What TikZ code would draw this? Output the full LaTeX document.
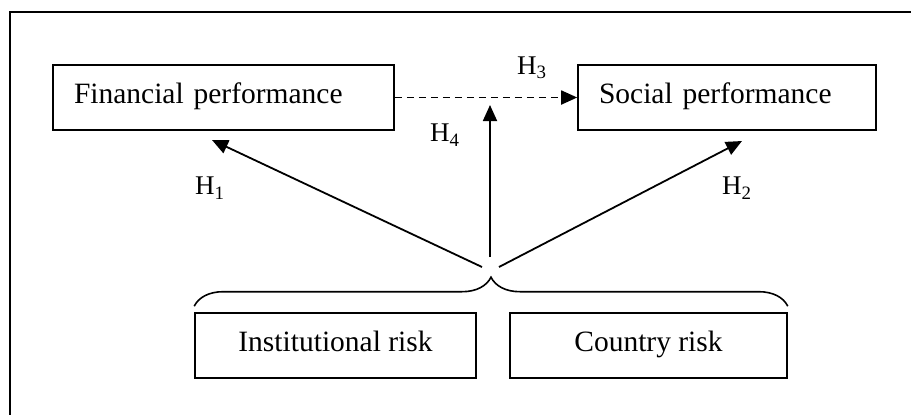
\documentclass[tikz,border=0pt]{standalone}
\usepackage{fontspec}
\setmainfont{Liberation Serif}
\usetikzlibrary{arrows.meta,decorations.pathreplacing}

\begin{document}
\begin{tikzpicture}[x=0.5pt,y=-0.5pt]
	\tikzstyle{construct}=[draw=black,line width=0.8pt,minimum height=32.5pt,inner ysep=0pt,text height=1.6ex,text depth=.4ex,font=\fontsize{14.75}{17}\selectfont]
	\tikzstyle{edge}=[draw=black,line width=0.9pt,-{Triangle[length=8pt,width=7pt]}]
	\tikzstyle{hyp}=[font=\fontsize{13.5}{16}\selectfont]
	\tikzstyle{bracket}=[draw=black,line width=0.8pt,decorate,decoration={brace,amplitude=14.5pt}]

	\useasboundingbox (0,0) rectangle (911,414);
	\draw [line width=1.2pt] (10,440) -- (10,12) -- (940,12);

	% upper row
	\node [construct,inner xsep=10.5pt,text width=149.5pt,align=left] (fin) at (223.5,97.5) {Financial performance};
	\node [construct,inner xsep=10.5pt,text width=128pt,align=left] (soc) at (727,97.5) {Social performance};

	% lower row
	\node [construct,minimum width=140.5pt] (inst) at (335.5,345.5) {Institutional risk};
	\node [construct,minimum width=138.5pt] (ctry) at (648.5,345.5) {Country risk};

	\draw [bracket] ([yshift=3pt]inst.north west) -- ([yshift=3pt]ctry.north east);

	\coordinate (hubL) at (482,267);
	\coordinate (hubC) at (490,257);
	\coordinate (hubR) at (499,267);
	\coordinate (tipL) at (212,140);
	\coordinate (tipC) at (490,105);
	\coordinate (tipR) at (742,141);

	\path [edge] (hubL) -- (tipL);
	\path [edge] (hubC) -- (tipC);
	\path [edge] (hubR) -- (tipR);
	\path [edge,dash pattern=on 3.5pt off 2.5pt] (fin.east) -- (soc.west);

	\node [hyp] (h1) at (210,188) {H\textsubscript{1}};
	\node [hyp] (h2) at (737,188) {H\textsubscript{2}};
	\node [hyp] (h3) at (532,68) {H\textsubscript{3}};
	\node [hyp] (h4) at (445,135) {H\textsubscript{4}};
\end{tikzpicture}
\end{document}
